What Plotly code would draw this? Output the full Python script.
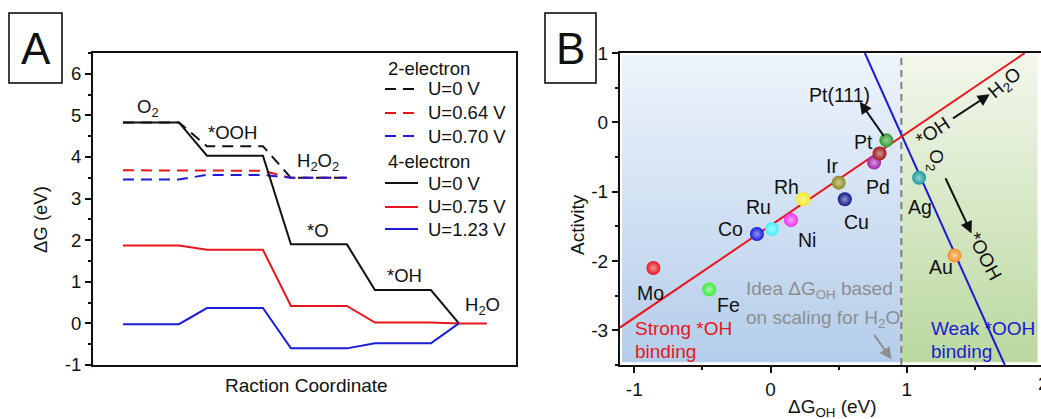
import plotly.graph_objects as go

W, H = 1041, 419
FONT = "Liberation Sans, Arial, sans-serif"

# ---------------- Panel A data ----------------
# 4-electron pathway levels: O2, *OOH, *O, *OH, H2O
levels_4e = {
    "U=0 V": [4.83, 4.03, 1.90, 0.80, 0.00],
    "U=0.75 V": [1.87, 1.77, 0.42, 0.02, 0.00],
    "U=1.23 V": [-0.02, 0.37, -0.60, -0.48, 0.00],
}
# 2-electron pathway levels: O2, *OOH, H2O2
levels_2e = {
    "U=0 V": [4.83, 4.26, 3.50],
    "U=0.64 V": [3.68, 3.67, 3.50],
    "U=0.70 V": [3.46, 3.57, 3.50],
}
legend_groups = ["2-electron", "4-electron"]
colors_A = {"black": "#111111", "red": "#e8161b", "blue": "#1b1bd8"}

# ---------------- Panel B data ----------------
metals = ["Mo", "Fe", "Co", "Ru", "Ni", "Rh", "Ir", "Cu", "Pd", "", "Pt", "Ag", "Au"]
dG_OH = [-0.86, -0.45, -0.10, 0.01, 0.15, 0.24, 0.50, 0.545, 0.76, 0.80, 0.85, 1.09, 1.35]
activity = [-2.10, -2.41, -1.61, -1.54, -1.41, -1.11, -0.87, -1.11, -0.58, -0.45, -0.26, -0.80, -1.92]
metal_colors = ["#e8141c", "#3cee3c", "#1418e0", "#3ff0f8", "#ee30ee", "#f4ec1c", "#8c8a20",
                "#14148c", "#a020a8", "#a01818", "#2c9a2c", "#1a9a9a", "#f89028"]
red_line_x = [-1.105, 1.866]
red_line_y = [-2.96, 1.0]
blue_line_x = [0.692, 1.719]
blue_line_y = [1.0, -3.5]
ideal_dG = 0.96
xticks_B = [-1, 0, 1, 2]
yticks_B = [1, 0, -1, -2, -3]
yticks_A = [6, 5, 4, 3, 2, 1, 0, -1]


def px(x):
    return x / W


def py(y):
    return 1 - y / H


def steps(levels, last_len=2):
    xs, ys = [], []
    for i, v in enumerate(levels):
        x0 = 3 * i
        x1 = x0 + (2 if i < len(levels) - 1 else last_len)
        xs += [x0, x1]
        ys += [v, v]
    return xs, ys


fig = go.Figure()
ann = []
shapes = []

# ---- Panel A traces ----
dash_pat = "11px,7px"
for (name, lv), col in zip(levels_2e.items(), ["black", "red", "blue"]):
    xs, ys = steps(lv, last_len=2)
    fig.add_trace(go.Scatter(
        x=xs, y=ys, mode="lines", name=name,
        line=dict(color=colors_A[col], width=2, dash=dash_pat),
        showlegend=False, xaxis="x", yaxis="y", hoverinfo="skip"))

for (name, lv), col in zip(levels_4e.items(), ["black", "red", "blue"]):
    xs, ys = steps(lv, last_len=(1 if col == "red" else 0))
    fig.add_trace(go.Scatter(
        x=xs, y=ys, mode="lines", name=name,
        line=dict(color=colors_A[col], width=2),
        showlegend=False, xaxis="x", yaxis="y", hoverinfo="skip"))

# ---- Panel A legend (drawn manually for exact row spacing) ----
leg_rows_y = [68, 89, 113, 136, 161, 183, 207, 229]
row = 0
for grp, series, dash in [(legend_groups[0], levels_2e, dash_pat), (legend_groups[1], levels_4e, None)]:
    ann.append(dict(text=grp, x=px(386), y=py(leg_rows_y[row]), xref="paper", yref="paper",
                    xanchor="left", yanchor="middle", showarrow=False,
                    font=dict(size=18.5, color="#111")))
    row += 1
    for name, col in zip(series.keys(), ["black", "red", "blue"]):
        yy = py(leg_rows_y[row])
        shapes.append(dict(type="line", xref="paper", yref="paper", x0=px(385), x1=px(418),
                           y0=yy, y1=yy,
                           line=dict(color=colors_A[col], width=2, dash=dash or "solid")))
        ann.append(dict(text=name, x=px(426), y=yy, xref="paper", yref="paper",
                        xanchor="left", yanchor="middle", showarrow=False,
                        font=dict(size=18.5, color="#111")))
        row += 1

# ---- Panel B background gradients ----
fig.add_trace(go.Scatter(
    x=[-1.09, ideal_dG, ideal_dG, -1.09, -1.09], y=[-3.46, -3.46, 0.97, 0.97, -3.46],
    mode="none", fill="toself",
    fillgradient=dict(type="vertical", colorscale=[[0, "#b4cdea"], [1, "#eef4fc"]]),
    showlegend=False, hoverinfo="skip", xaxis="x2", yaxis="y2"))
fig.add_trace(go.Scatter(
    x=[ideal_dG, 1.96, 1.96, ideal_dG, ideal_dG], y=[-3.46, -3.46, 0.97, 0.97, -3.46],
    mode="none", fill="toself",
    fillgradient=dict(type="vertical", colorscale=[[0, "#bad89f"], [1, "#f3f7ec"]]),
    showlegend=False, hoverinfo="skip", xaxis="x2", yaxis="y2"))

# dashed ideal line
fig.add_trace(go.Scatter(
    x=[ideal_dG, ideal_dG], y=[-3.5, 1.0], mode="lines",
    line=dict(color="#808080", width=2, dash="7px,5px"),
    showlegend=False, hoverinfo="skip", xaxis="x2", yaxis="y2"))

# scaling lines
fig.add_trace(go.Scatter(x=blue_line_x, y=blue_line_y, mode="lines",
                         line=dict(color="#1b1bd0", width=2),
                         showlegend=False, hoverinfo="skip", xaxis="x2", yaxis="y2"))
fig.add_trace(go.Scatter(x=red_line_x, y=red_line_y, mode="lines",
                         line=dict(color="#e8161b", width=2),
                         showlegend=False, hoverinfo="skip", xaxis="x2", yaxis="y2"))


def lighten(hexc, f=0.55):
    r, g, b = int(hexc[1:3], 16), int(hexc[3:5], 16), int(hexc[5:7], 16)
    r, g, b = [int(c + (255 - c) * f) for c in (r, g, b)]
    return f"rgb({r},{g},{b})"


fig.add_trace(go.Scatter(
    x=dG_OH, y=activity, mode="markers", text=metals,
    marker=dict(size=14, color=metal_colors, line=dict(width=0),
                gradient=dict(type="radial", color=[lighten(c) for c in metal_colors])),
    showlegend=False, hoverinfo="skip", xaxis="x2", yaxis="y2"))

# ---- Panel A annotations ----
labelsA = [
    ("O<sub>2</sub>", 0.9, 5.17),
    ("*OOH", 3.93, 4.59),
    ("H<sub>2</sub>O<sub>2</sub>", 6.97, 3.88),
    ("*O", 6.97, 2.24),
    ("*OH", 10.04, 1.15),
    ("H<sub>2</sub>O", 12.86, 0.43),
]
for t, x, y in labelsA:
    ann.append(dict(text=t, x=x, y=y, xref="x", yref="y", showarrow=False,
                    font=dict(size=18.5, color="#111")))


def paper_text(t, x, y, size, angle=0, color="#111"):
    ann.append(dict(text=t, x=px(x), y=py(y), xref="paper", yref="paper", xanchor="center",
                    yanchor="middle", showarrow=False, textangle=angle,
                    font=dict(size=size, color=color)))


paper_text("ΔG (eV)", 40, 220, 18.5, -90)
paper_text("Raction Coordinate", 306, 385, 19)
paper_text("A", 35.5, 49, 44)
paper_text("B", 570.5, 49, 44)
paper_text("ΔG<sub>OH</sub> (eV)", 832, 408, 19)
paper_text("Activity", 577, 225, 19, -90)

# ---- Panel B annotations ----
label_pos = {
    "Pt(111)": (0.508, 0.394), "Pt": (0.685, -0.28), "Ir": (0.45, -0.63), "Rh": (0.12, -0.93),
    "Pd": (0.787, -0.93), "Ru": (-0.086, -1.218), "Cu": (0.633, -1.434), "Co": (-0.291, -1.544),
    "Ni": (0.27, -1.70), "Ag": (1.095, -1.218), "Au": (1.249, -2.084), "Mo": (-0.878, -2.459),
    "Fe": (-0.306, -2.636),
}
for t, (x, y) in label_pos.items():
    ann.append(dict(text=t, x=x, y=y, xref="x2", yref="y2", showarrow=False,
                    font=dict(size=19.5, color="#111")))

for t, y in [("Strong *OH", -2.98), ("binding", -3.31)]:
    ann.append(dict(text=t, x=-1.013, y=y, xref="x2", yref="y2", showarrow=False, xanchor="left",
                    font=dict(size=19, color="#e8161b")))
for t, y in [("Weak *OOH", -2.98), ("binding", -3.31)]:
    ann.append(dict(text=t, x=1.164, y=y, xref="x2", yref="y2", showarrow=False, xanchor="left",
                    font=dict(size=19, color="#1b1bd0")))
for t, y in [("Idea ΔG<sub>OH</sub> based", -2.42), ("on scaling for H<sub>2</sub>O", -2.843)]:
    ann.append(dict(text=t, x=-0.196, y=y, xref="x2", yref="y2", showarrow=False, xanchor="left",
                    font=dict(size=19, color="#8e8e8e")))

# rotated labels
for t, x, y, ang in [("*OH", 1.191, -0.136, -34), ("H<sub>2</sub>O", 1.719, 0.56, -40),
                     ("O<sub>2</sub>", 1.206, -0.544, 90), ("*OOH", 1.572, -1.94, 62)]:
    ann.append(dict(text=t, x=x, y=y, xref="x2", yref="y2", showarrow=False, textangle=ang,
                    font=dict(size=19, color="#111")))

# arrows (head, tail)
for (hx, hy), (tx, ty), col in [((0.655, 0.297), (0.838, -0.217), "#111"),
                                 ((1.609, 0.404), (1.328, 0.043), "#111"),
                                 ((1.475, -1.602), (1.279, -0.785), "#111"),
                                 ((0.888, -3.42), (0.753, -3.045), "#8e8e8e")]:
    ann.append(dict(x=hx, y=hy, ax=tx, ay=ty, xref="x2", yref="y2", axref="x2", ayref="y2",
                    text="", showarrow=True, arrowhead=2, arrowsize=1.2, arrowwidth=2,
                    arrowcolor=col))

shapes += [
    dict(type="rect", xref="paper", yref="paper", x0=px(9), x1=px(62), y0=py(83), y1=py(13),
         line=dict(color="#000", width=1.5)),
    dict(type="rect", xref="paper", yref="paper", x0=px(545), x1=px(596), y0=py(83), y1=py(13),
         line=dict(color="#000", width=1.5)),
]

ydom = [py(365), py(53)]
axis_common = dict(showgrid=False, zeroline=False, linecolor="#111", linewidth=2,
                   ticks="outside", tickcolor="#111", ticklen=6, tickwidth=1.5)
minor = dict(dtick=0.5, ticks="outside", ticklen=3, tickcolor="#111")

fig.update_layout(
    width=W, height=H, margin=dict(l=0, r=0, t=0, b=0, autoexpand=False),
    paper_bgcolor="white", plot_bgcolor="white",
    font=dict(family=FONT, color="#111"),
    showlegend=False,
    xaxis=dict(domain=[px(93), px(516)], range=[-1.07, 14.04], anchor="y",
               showline=True, mirror=True, linecolor="#111", linewidth=2,
               showticklabels=False, ticks="", showgrid=False, zeroline=False),
    yaxis=dict(domain=ydom, range=[-1, 6.5], anchor="x", mirror=True, showline=True,
               tickvals=yticks_A, ticktext=[str(v) for v in yticks_A], minor=minor,
               tickfont=dict(size=18.5, color="#111"), **axis_common),
    xaxis2=dict(domain=[px(620), 1.0], range=[-1.105, 1.985], anchor="y2", showline=True,
                mirror=True, tickvals=xticks_B, ticktext=[str(v) for v in xticks_B], minor=minor,
                tickfont=dict(size=19, color="#111"), **axis_common),
    yaxis2=dict(domain=ydom, range=[-3.5, 1.0], anchor="x2", showline=True, mirror=False,
                tickvals=yticks_B, ticktext=[str(v) for v in yticks_B], minor=minor,
                tickfont=dict(size=19, color="#111"), **axis_common),
    annotations=ann + [
        dict(text="2", x=px(1043), y=py(383), xref="paper", yref="paper", xanchor="center",
             yanchor="middle", showarrow=False, font=dict(size=19, color="#111")),
    ],
    shapes=shapes,
)

fig.write_html("out.html")
